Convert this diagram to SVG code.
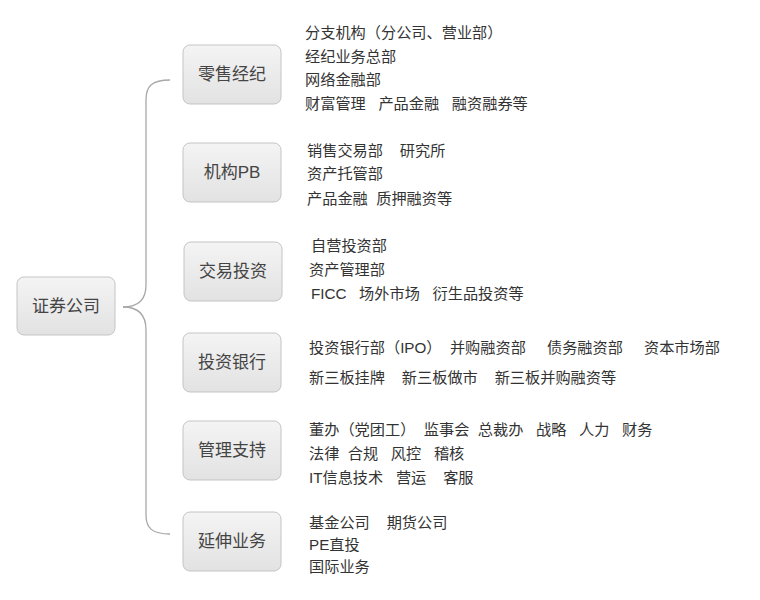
<svg xmlns="http://www.w3.org/2000/svg" width="760" height="600" viewBox="0 0 760 600">
<defs>
<linearGradient id="g" x1="0" y1="0" x2="0" y2="1"><stop offset="0" stop-color="#f4f4f4"/><stop offset="1" stop-color="#e2e2e2"/></linearGradient>
</defs>
<style>
.box{fill:url(#g);stroke:#c4c4c4;stroke-width:1}
.nt{font-family:"Liberation Sans","Noto Sans CJK SC",sans-serif;font-size:17px;fill:#444;text-anchor:middle}
.t{font-family:"Liberation Sans","Noto Sans CJK SC",sans-serif;font-size:15.2px;fill:#333;white-space:pre}
.c{fill:none;stroke:#a8a8a8;stroke-width:1.3}
</style>
<rect width="760" height="600" fill="#fff"/>
<g id="connectors">
<path class="c" d="M123,307 C138,307 146,300 146,285 L146,100 C146,86 152,80 170,80"/>
<path class="c" d="M123,307 C138,307 146,314 146,330 L146,515 C146,528 152,534 170,534"/>
</g>
<g id="root"><rect class="box" x="17" y="277" width="98" height="58" rx="7"/><text class="nt" x="66" y="312">证券公司</text></g>
<g id="n1"><rect class="box" x="183" y="45" width="98" height="59" rx="7"/><text class="nt" x="232" y="80">零售经纪</text></g>
<g id="n2"><rect class="box" x="183" y="143" width="98" height="59" rx="7"/><text class="nt" x="232" y="178">机构PB</text></g>
<g id="n3"><rect class="box" x="184" y="242" width="98" height="59" rx="7"/><text class="nt" x="233" y="277">交易投资</text></g>
<g id="n4"><rect class="box" x="183" y="333" width="98" height="59" rx="7"/><text class="nt" x="232" y="368">投资银行</text></g>
<g id="n5"><rect class="box" x="183" y="421" width="98" height="59" rx="7"/><text class="nt" x="232" y="456">管理支持</text></g>
<g id="n6"><rect class="box" x="183" y="512" width="98" height="59" rx="7"/><text class="nt" x="232" y="547">延伸业务</text></g>
<g id="l1">
<text class="t" x="305" y="38">分支机构（分公司、营业部）</text>
<text class="t" x="305" y="62">经纪业务总部</text>
<text class="t" x="305" y="85">网络金融部</text>
<text class="t" x="305" y="109">财富管理   产品金融   融资融券等</text>
</g>
<g id="l2">
<text class="t" x="307" y="156">销售交易部    研究所</text>
<text class="t" x="307" y="179">资产托管部</text>
<text class="t" x="307" y="204">产品金融  质押融资等</text>
</g>
<g id="l3">
<text class="t" x="311" y="251">自营投资部</text>
<text class="t" x="309" y="275">资产管理部</text>
<text class="t" x="311" y="299">FICC   场外市场   衍生品投资等</text>
</g>
<g id="l4">
<text class="t" x="309" y="353">投资银行部（IPO）  并购融资部     债务融资部     资本市场部</text>
<text class="t" x="309" y="383">新三板挂牌    新三板做市    新三板并购融资等</text>
</g>
<g id="l5">
<text class="t" x="309" y="435">董办（党团工）  监事会  总裁办   战略   人力   财务</text>
<text class="t" x="309" y="459">法律  合规   风控   稽核</text>
<text class="t" x="309" y="483">IT信息技术   营运    客服</text>
</g>
<g id="l6">
<text class="t" x="309" y="528">基金公司    期货公司</text>
<text class="t" x="309" y="550">PE直投</text>
<text class="t" x="309" y="572">国际业务</text>
</g>
</svg>
